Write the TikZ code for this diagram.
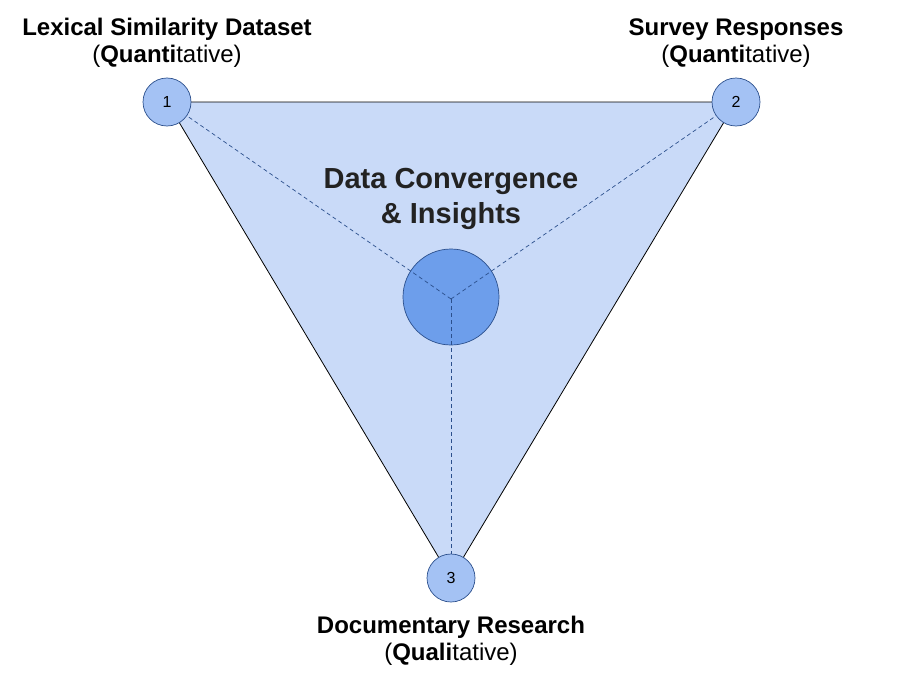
\documentclass[tikz,border=0pt]{standalone}
\usepackage{fontspec}
\setmainfont{Liberation Sans}
\usetikzlibrary{positioning}
\definecolor{trifill}{HTML}{C9DAF8}
\definecolor{nodefill}{HTML}{A4C2F4}
\definecolor{hubfill}{HTML}{6D9EEB}
\definecolor{rim}{HTML}{2B4F8C}
\definecolor{hubtext}{HTML}{222222}
\tikzset{
    source/.style={circle, draw=rim, fill=nodefill, line width=0.7pt, minimum size=48pt, inner sep=0pt, font=\fontsize{16}{18}\selectfont},
    hub/.style={circle, draw=rim, fill=hubfill, line width=0.7pt, minimum size=96pt, inner sep=0pt},
    spoke/.style={rim, line width=0.7pt, dash pattern=on 4pt off 3pt},
    lbl/.style={align=center, anchor=base, font=\fontsize{24}{27}\selectfont}
}
\begin{document}
\begin{tikzpicture}[x=1pt, y=-1pt]
            %\draw[lightgray] (0, 0) grid (904, 693);
            \useasboundingbox (0, 0) rectangle (904, 693);
            \coordinate (p1) at (167, 102);
            \coordinate (p2) at (736, 102);
            \coordinate (p3) at (451, 578);
            \coordinate (mid) at (451, 299);
            \fill[trifill] (p1) -- (p2) -- (p3) -- cycle;
            \draw[line width=0.8pt] (p1) -- (p2) -- (p3) -- cycle;
            \node[hub] (hub) at (451, 297) {};
            \draw[spoke] (mid) -- (p1);
            \draw[spoke] (mid) -- (p2);
            \draw[spoke] (mid) -- (p3);
            \node[source] (s1) at (p1) {1};
            \node[source] (s2) at (p2) {2};
            \node[source] (s3) at (p3) {3};
            \node[lbl] (l1) at (167, 63) {\textbf{Lexical Similarity Dataset}\\(\textbf{Quanti}tative)};
            \node[lbl] (l2) at (736, 63) {\textbf{Survey Responses}\\(\textbf{Quanti}tative)};
            \node[lbl] (l3) at (451, 660) {\textbf{Documentary Research}\\(\textbf{Quali}tative)};
            \node[lbl, text=hubtext, font=\bfseries\fontsize{29}{35}\selectfont] (title) at (451, 223) {Data Convergence\\\& Insights};
        \end{tikzpicture}
\end{document}
